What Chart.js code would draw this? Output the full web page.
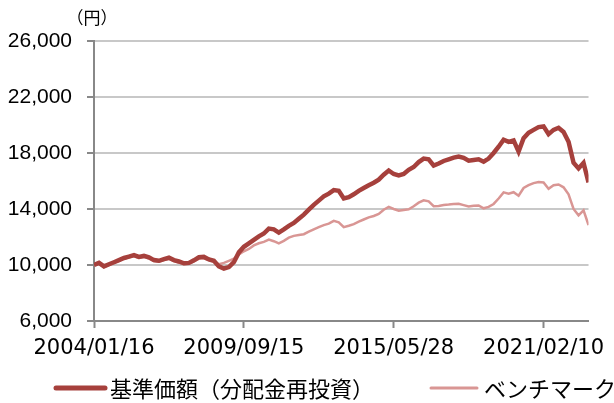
<!DOCTYPE html>
<html>
<head>
<meta charset="utf-8">
<style>
  html, body { margin: 0; padding: 0; background: #fff; }
  #wrap { width: 614px; height: 403px; }
</style>
</head>
<body>
<div id="wrap"><canvas id="chart" width="614" height="403"></canvas></div>
<script src="https://cdn.jsdelivr.net/npm/chart.js"></script>
<script>
// tick labels on the x axis and the sample index each one sits at
const xTickLabels = ['2004/01/16', '2009/09/15', '2015/05/28', '2021/02/10'];
const xTickIndex = [0, 30, 60, 90];

// values, one sample roughly every 5 px (100 samples)
const navValues = [
  10000, 10150, 9900, 10050, 10200, 10350, 10500, 10600, 10700, 10580,
  10650, 10550, 10350, 10300, 10420, 10520, 10350, 10250, 10120, 10150,
  10330, 10550, 10580, 10400, 10300, 9900, 9750, 9850, 10200, 10900,
  11300, 11550, 11800, 12050, 12250, 12600, 12550, 12320, 12550, 12800,
  13000, 13300, 13600, 13950, 14300, 14600, 14900, 15100, 15350, 15300,
  14750, 14850, 15050, 15300, 15500, 15700, 15880, 16100, 16450, 16750,
  16500, 16400, 16500, 16800, 17000, 17350, 17600, 17550, 17100, 17250,
  17430, 17550, 17670, 17750, 17650, 17450, 17500, 17550, 17380, 17600,
  18000, 18450, 18950, 18800, 18900, 18100, 19050, 19450, 19650, 19850,
  19900, 19350, 19650, 19800, 19500, 18800, 17300, 16900, 17300, 15900
];
const benchValues = [
  10000, 10100, 9850, 10000, 10150, 10300, 10450, 10550, 10620, 10500,
  10560, 10470, 10280, 10230, 10350, 10450, 10280, 10180, 10050, 10080,
  10250, 10450, 10480, 10350, 10250, 10050, 10150, 10300, 10450, 10750,
  10980, 11150, 11400, 11550, 11650, 11820, 11700, 11550, 11720, 11950,
  12080, 12150, 12200, 12380, 12550, 12700, 12850, 12950, 13150, 13050,
  12700, 12800, 12920, 13100, 13250, 13400, 13500, 13650, 13950, 14150,
  14000, 13880, 13930, 13980, 14200, 14450, 14620, 14550, 14200, 14220,
  14290, 14320, 14360, 14380, 14280, 14180, 14230, 14250, 14050, 14150,
  14360, 14750, 15190, 15100, 15200, 14950, 15500, 15700, 15850, 15920,
  15900, 15450, 15700, 15750, 15550, 15050, 14000, 13550, 13900, 12850
];

const seriesNames = ['基準価額（分配金再投資）', 'ベンチマーク'];

const toPoints = arr => arr.map((v, i) => ({ x: i, y: v }));

// legend drawn under the axis, plus the unit label above the y axis
const extras = {
  id: 'extras',
  afterDraw(chart) {
    const ctx = chart.ctx;
    ctx.save();
    ctx.fillStyle = '#000';
    ctx.font = '17px "Noto Sans CJK JP"';
    ctx.textAlign = 'center';
    ctx.textBaseline = 'middle';
    ctx.fillText('（円）', 92, 18);

    const items = [
      { x0: 56, x1: 105, tx: 110 },
      { x0: 431, x1: 477, tx: 484 }
    ];
    const y = 388;
    ctx.font = '22px "Noto Sans CJK JP"';
    ctx.textAlign = 'left';
    chart.data.datasets.forEach((ds, i) => {
      const it = items[i];
      ctx.strokeStyle = ds.borderColor;
      ctx.lineWidth = ds.borderWidth + 0.5;
      ctx.lineCap = 'round';
      ctx.beginPath();
      ctx.moveTo(it.x0, y);
      ctx.lineTo(it.x1, y);
      ctx.stroke();
      ctx.fillStyle = '#000';
      ctx.fillText(ds.label, it.tx, y + 1);
    });
    ctx.restore();
  }
};

const ctx = document.getElementById('chart').getContext('2d');
const chart = new Chart(ctx, {
  type: 'line',
  data: {
    datasets: [
      {
        label: seriesNames[0],
        data: toPoints(navValues),
        borderColor: '#a6403c',
        borderWidth: 4.5,
        pointRadius: 0,
        tension: 0,
        fill: false
      },
      {
        label: seriesNames[1],
        data: toPoints(benchValues),
        borderColor: '#d99694',
        borderWidth: 2.5,
        pointRadius: 0,
        tension: 0,
        fill: false
      }
    ]
  },
  options: {
    responsive: false,
    animation: false,
    layout: { padding: { top: 41, right: 21, bottom: 42, left: 0 } },
    plugins: {
      legend: { display: false },
      tooltip: { enabled: false }
    },
    scales: {
      x: {
        type: 'linear',
        min: 0,
        max: navValues.length - 1,
        afterBuildTicks(scale) {
          scale.ticks = xTickIndex.map(v => ({ value: v }));
        },
        afterFit(scale) { scale.height = 40; },
        ticks: {
          autoSkip: false,
          maxRotation: 0,
          padding: 8,
          color: '#000',
          font: { family: '"DejaVu Sans"', size: 21 },
          callback(value) {
            const k = xTickIndex.indexOf(value);
            return k >= 0 ? xTickLabels[k] : '';
          }
        },
        grid: {
          drawOnChartArea: false,
          tickLength: 7,
          tickColor: '#888',
          tickWidth: 2
        },
        border: { color: '#888', width: 2 }
      },
      y: {
        min: 6000,
        max: 26000,
        afterFit(scale) { scale.width = 94; },
        ticks: {
          stepSize: 4000,
          padding: 15,
          color: '#000',
          font: { family: '"Liberation Sans", Arial', size: 21 },
          callback(value) { return value.toLocaleString('en-US'); }
        },
        grid: {
          color: '#c8c8c8',
          lineWidth: 2,
          tickLength: 7,
          tickColor: '#888',
          tickWidth: 2
        },
        border: { color: '#888', width: 2 }
      }
    }
  },
  plugins: [extras]
});
</script>
</body>
</html>
